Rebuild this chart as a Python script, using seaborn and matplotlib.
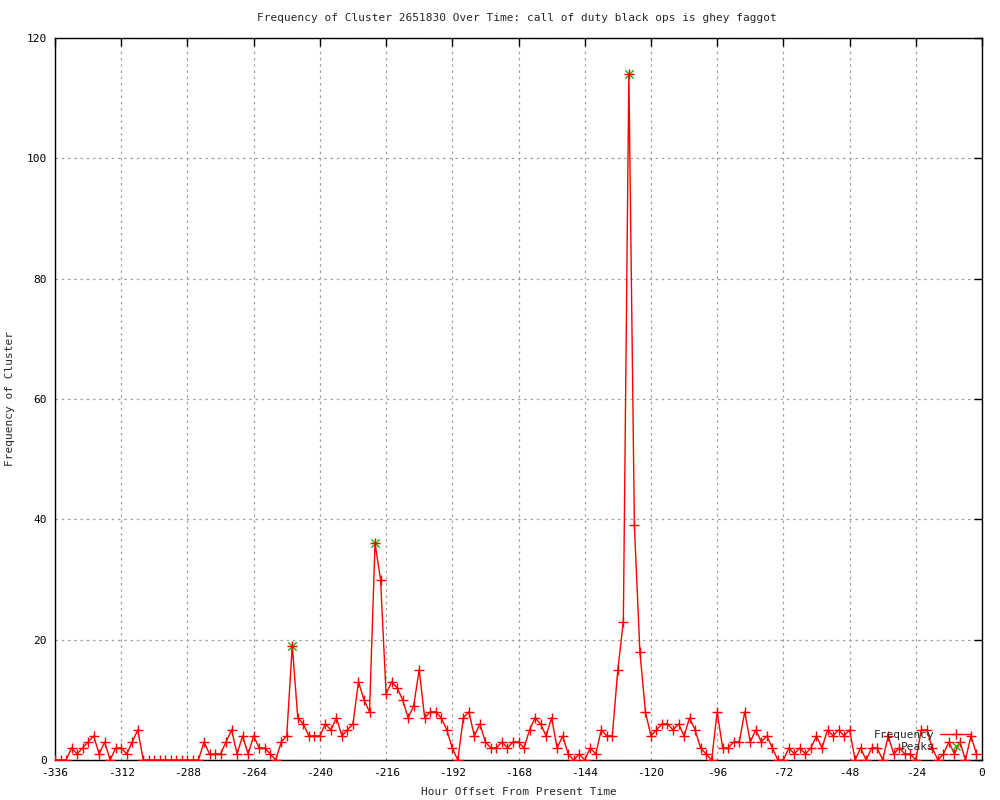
import numpy as np
import pandas as pd
import matplotlib
matplotlib.use("Agg")
import matplotlib.pyplot as plt
import seaborn as sns
from matplotlib.lines import Line2D

# hourly offsets sampled every 2 hours, oldest first
hours = np.arange(-336, 0, 2)
frequency = [
    0, 0, 0, 2, 1, 2, 3, 4, 1, 3, 0, 2, 2, 1, 3, 5,          # -336 .. -306
    0, 0, 0, 0, 0, 0, 0, 0, 0, 0, 0, 3, 1, 1, 1, 3,          # -304 .. -274
    5, 1, 4, 1, 4, 2, 2, 1, 0, 3, 4, 19, 7, 6, 4, 4,         # -272 .. -242
    4, 6, 5, 7, 4, 5, 6, 13, 10, 8, 36, 30, 11, 13, 12, 10,  # -240 .. -210
    7, 9, 15, 7, 8, 8, 7, 5, 2, 0, 7, 8, 4, 6, 3, 2,         # -208 .. -178
    2, 3, 2, 3, 3, 2, 5, 7, 6, 4, 7, 2, 4, 1, 0, 1,          # -176 .. -146
    0, 2, 1, 5, 4, 4, 15, 23, 114, 39, 18, 8, 4, 5, 6, 6,    # -144 .. -114
    5, 6, 4, 7, 5, 2, 1, 0, 8, 2, 2, 3, 3, 8, 3, 5,          # -112 .. -82
    3, 4, 2, 0, 0, 2, 1, 2, 1, 2, 4, 2, 5, 4, 5, 4,          # -80 .. -50
    5, 0, 2, 0, 2, 2, 0, 4, 1, 2, 1, 1, 0, 5, 5, 2,          # -48 .. -18
    0, 1, 3, 1, 3, 0, 4, 1,                                  # -16 .. -2
]
peak_hours = [-250, -220, -128]
peak_values = [19, 36, 114]

x_ticks = list(range(-336, 1, 24))
y_ticks = list(range(0, 121, 20))

TITLE = "Frequency of Cluster 2651830 Over Time: call of duty black ops is ghey faggot"

df = pd.DataFrame({"hour": hours, "freq": frequency})
peaks = pd.DataFrame({"hour": peak_hours, "freq": peak_values})

sns.set_style("white")
plt.rcParams["font.family"] = ["DejaVu Sans Mono", "DejaVu Sans"]
plt.rcParams["axes.unicode_minus"] = False

fig = plt.figure(figsize=(10, 8), dpi=100)
ax = fig.add_axes([0.055, 0.05, 0.927, 0.9025])

sns.scatterplot(data=peaks, x="hour", y="freq", ax=ax, marker="x",
                color="#00c000", s=36, linewidth=1.0, zorder=3)
sns.lineplot(data=df, x="hour", y="freq", ax=ax, color="red", lw=1.0,
             marker="+", markersize=7, markeredgewidth=1.0,
             markeredgecolor="red", zorder=4)

ax.set_xlim(-336, 0)
ax.set_ylim(0, 120)
ax.set_xticks(x_ticks)
ax.set_yticks(y_ticks)
ax.tick_params(direction="in", length=6, width=1, top=True, right=True,
               labelsize=8, colors="black", pad=6)
ax.grid(True, linestyle=(0, (2, 3)), color="#a0a0a0", lw=0.9)
for s in ax.spines.values():
    s.set_visible(True)
    s.set_color("black")
    s.set_linewidth(1.0)

ax.set_xlabel("Hour Offset From Present Time", fontsize=8, labelpad=6)
ax.set_ylabel("Frequency of Cluster", fontsize=8, labelpad=8)
fig.text(0.517, 0.978, TITLE, ha="center", va="center", fontsize=8)

handles = [
    Line2D([], [], color="red", lw=1.0, marker="+", markersize=7,
           markeredgewidth=1.0),
    Line2D([], [], color="#00c000", lw=0, marker="x", markersize=6,
           markeredgewidth=1.0),
]
ax.legend(handles, ["Frequency", "Peaks"], loc="lower right",
          bbox_to_anchor=(0.997, 0.0), frameon=False, markerfirst=False,
          fontsize=8, handlelength=2.8, labelspacing=0.2, borderpad=0.2,
          handletextpad=0.5)

fig.savefig("out.png", dpi=100)
